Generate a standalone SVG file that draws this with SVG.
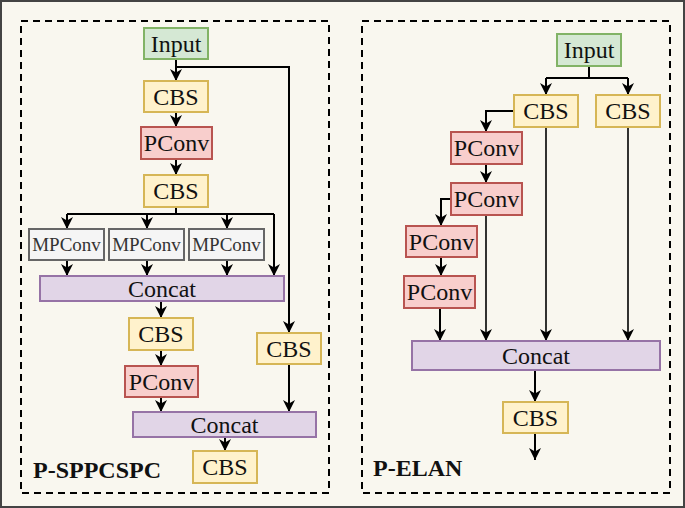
<svg xmlns="http://www.w3.org/2000/svg" width="685" height="508" viewBox="0 0 685 508">
<style>
text{font-family:"Liberation Serif","Times New Roman",serif;fill:#111;text-anchor:middle}
.t{font-size:24px}
.m{font-size:19px;fill:#333}
.lbl{font-size:24px;font-weight:bold;text-anchor:start}
.in{fill:#d5e8d4;stroke:#82b366;stroke-width:2}
.cbs{fill:#fff2cc;stroke:#d6b656;stroke-width:2}
.pc{fill:#f8cecc;stroke:#b85450;stroke-width:2}
.cc{fill:#e1d5e7;stroke:#9673a6;stroke-width:2}
.mp{fill:#f5f5f5;stroke:#666;stroke-width:2}
.e{fill:none;stroke:#000;stroke-width:2}
.a{fill:none;stroke:#000;stroke-width:2;marker-end:url(#ah)}
.b{fill:none;stroke:#000;stroke-width:1.6;marker-end:url(#ah)}
.dash{fill:none;stroke:#000;stroke-width:2;stroke-dasharray:7,5}
</style>
<defs>
<marker id="ah" markerUnits="userSpaceOnUse" markerWidth="12" markerHeight="12" viewBox="0 0 10 10" refX="10" refY="5" orient="auto">
<path d="M0,0 L10,5 L0,10 L3,5 z" fill="#000"/>
</marker>
</defs>
<rect x="0" y="0" width="685" height="508" fill="#f9f7ef"/>
<rect x="1" y="1" width="683" height="506" fill="none" stroke="#444" stroke-width="2"/>
<rect class="dash" x="21" y="21" width="308" height="472"/>
<rect class="dash" x="362" y="21" width="308" height="472"/>
<text class="lbl" x="33" y="478">P-SPPCSPC</text>
<text class="lbl" x="373" y="476">P-ELAN</text>

<g id="connectors">
<path class="a" d="M176,59 V81"/>
<path class="a" d="M176,67 H289 V333"/>
<path class="a" d="M176,112 V127"/>
<path class="a" d="M176,159 V175"/>
<path class="e" d="M176,207 V214 M67,214 H274"/>
<path class="a" d="M67,214 V229"/>
<path class="a" d="M147,214 V229"/>
<path class="a" d="M227,214 V229"/>
<path class="a" d="M274,214 V276"/>
<path class="a" d="M67,260 V276"/>
<path class="a" d="M147,260 V276"/>
<path class="a" d="M227,260 V276"/>
<path class="a" d="M161,301 V318"/>
<path class="a" d="M161,350 V366"/>
<path class="a" d="M161,397 V412"/>
<path class="a" d="M289,364 V412"/>
<path class="a" d="M225,437 V451"/>

<path class="e" d="M589,66 V78 M546,78 H628"/>
<path class="a" d="M546,78 V95"/>
<path class="a" d="M628,78 V95"/>
<path class="a" d="M514,111 H486 V132"/>
<path class="a" d="M486,164 V183"/>
<path class="a" d="M451,199 H441 V226"/>
<path class="a" d="M441,257 V276"/>
<path class="a" d="M440,308 V341"/>
<path class="b" d="M486,215 V341"/>
<path class="b" d="M546,127 V341"/>
<path class="b" d="M628,127 V341"/>
<path class="a" d="M535,370 V402"/>
<path class="a" d="M535,433 V460"/>
</g>

<g id="l-input"><rect class="in" x="144" y="28" width="64" height="31"/><text class="t" x="176" y="51.5">Input</text></g>
<g id="l-cbs1"><rect class="cbs" x="144" y="81" width="64" height="31"/><text class="t" x="176" y="104.5">CBS</text></g>
<g id="l-pconv1"><rect class="pc" x="141" y="127" width="71" height="32"/><text class="t" x="176.5" y="151">PConv</text></g>
<g id="l-cbs2"><rect class="cbs" x="144" y="175" width="64" height="32"/><text class="t" x="176" y="199">CBS</text></g>
<g id="l-mp1"><rect class="mp" x="29" y="229" width="75" height="31"/><text class="m" x="66.5" y="251">MPConv</text></g>
<g id="l-mp2"><rect class="mp" x="109" y="229" width="75" height="31"/><text class="m" x="146.5" y="251">MPConv</text></g>
<g id="l-mp3"><rect class="mp" x="189" y="229" width="75" height="31"/><text class="m" x="226.5" y="251">MPConv</text></g>
<g id="l-concat1"><rect class="cc" x="40" y="276" width="244" height="25"/><text class="t" x="162" y="296.5">Concat</text></g>
<g id="l-cbs3"><rect class="cbs" x="129" y="318" width="64" height="32"/><text class="t" x="161" y="342">CBS</text></g>
<g id="l-pconv2"><rect class="pc" x="125" y="366" width="73" height="31"/><text class="t" x="161.5" y="389.5">PConv</text></g>
<g id="l-cbs4"><rect class="cbs" x="257" y="333" width="64" height="31"/><text class="t" x="289" y="356.5">CBS</text></g>
<g id="l-concat2"><rect class="cc" x="133" y="412" width="183" height="25"/><text class="t" x="224.5" y="432.5">Concat</text></g>
<g id="l-cbs5"><rect class="cbs" x="193" y="451" width="64" height="32"/><text class="t" x="225" y="475">CBS</text></g>

<g id="r-input"><rect class="in" x="557" y="34" width="64" height="32"/><text class="t" x="589" y="58">Input</text></g>
<g id="r-cbs1"><rect class="cbs" x="514" y="95" width="64" height="32"/><text class="t" x="546" y="119">CBS</text></g>
<g id="r-cbs2"><rect class="cbs" x="596" y="95" width="64" height="32"/><text class="t" x="628" y="119">CBS</text></g>
<g id="r-pconv1"><rect class="pc" x="451" y="132" width="71" height="32"/><text class="t" x="486.5" y="156">PConv</text></g>
<g id="r-pconv2"><rect class="pc" x="451" y="183" width="71" height="32"/><text class="t" x="486.5" y="207">PConv</text></g>
<g id="r-pconv3"><rect class="pc" x="406" y="226" width="71" height="31"/><text class="t" x="441.5" y="249.5">PConv</text></g>
<g id="r-pconv4"><rect class="pc" x="404" y="276" width="71" height="32"/><text class="t" x="439.5" y="300">PConv</text></g>
<g id="r-concat"><rect class="cc" x="412" y="341" width="248" height="29"/><text class="t" x="536" y="363.5">Concat</text></g>
<g id="r-cbs3"><rect class="cbs" x="503" y="402" width="65" height="31"/><text class="t" x="535.5" y="425.5">CBS</text></g>
</svg>
